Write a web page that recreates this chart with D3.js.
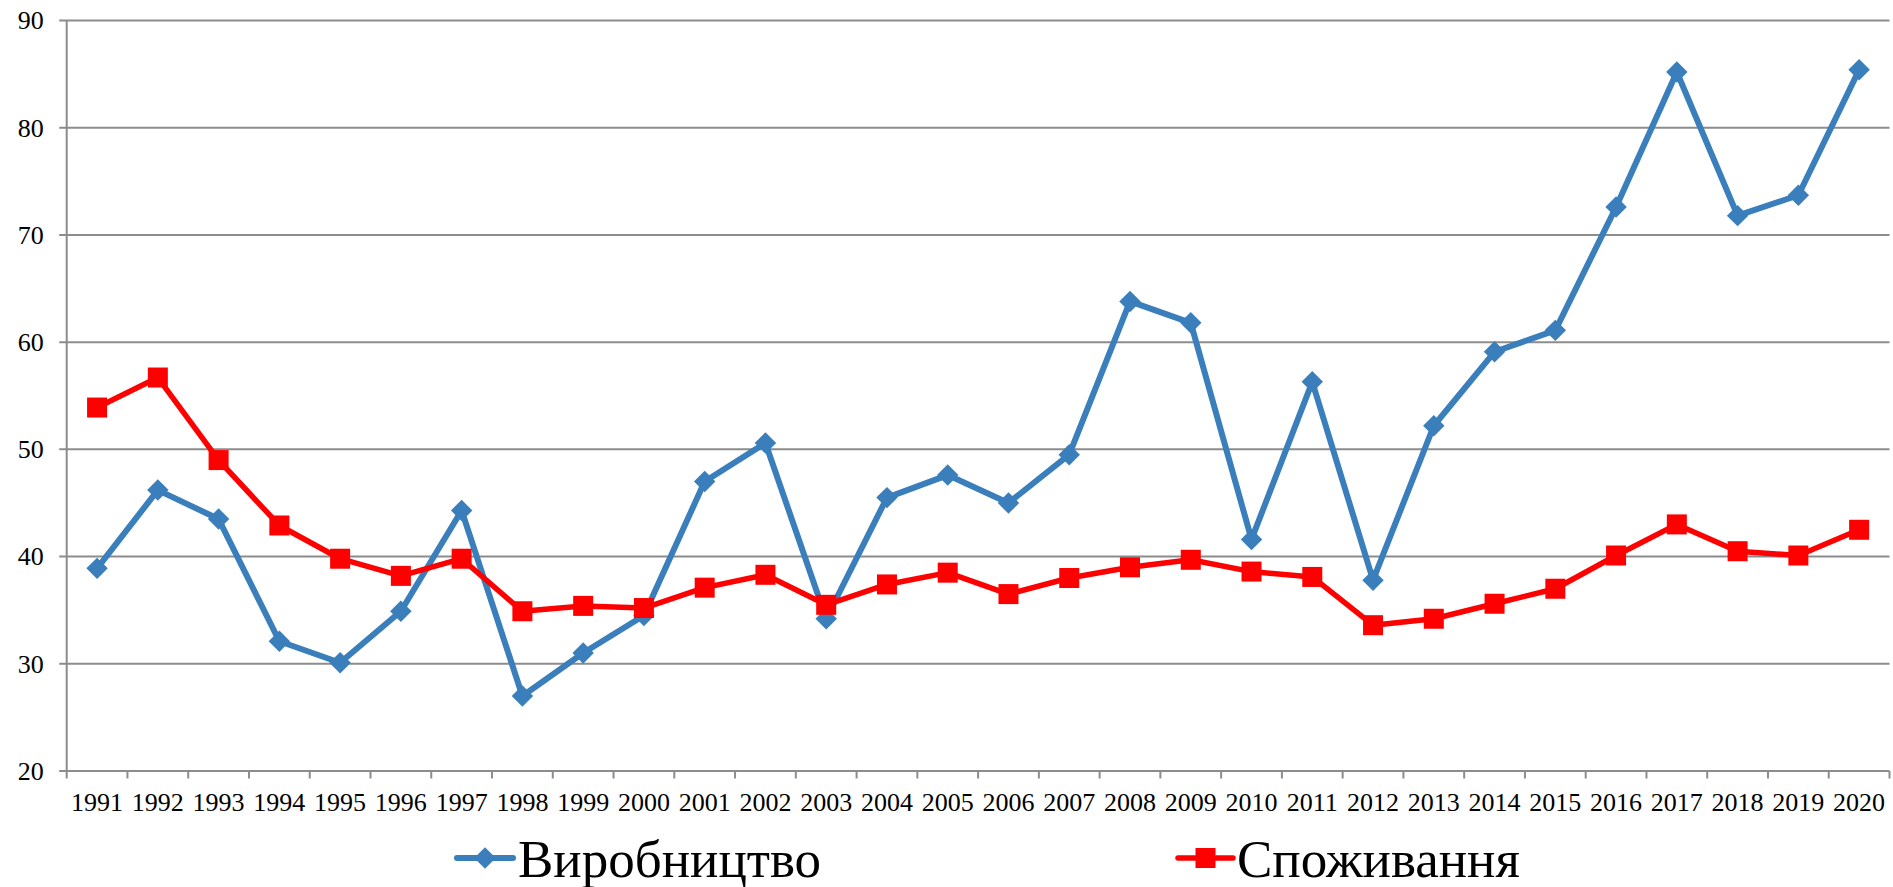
<!DOCTYPE html>
<html>
<head>
<meta charset="utf-8">
<script src="https://cdn.jsdelivr.net/npm/d3@7"></script>
<style>
  body { margin: 0; background: #fff; }
  text { font-family: "Liberation Serif", "Times New Roman", serif; fill: #000; }
</style>
</head>
<body>
<div id="chart"></div>
<script>
var years = ["1991","1992","1993","1994","1995","1996","1997","1998","1999","2000",
             "2001","2002","2003","2004","2005","2006","2007","2008","2009","2010",
             "2011","2012","2013","2014","2015","2016","2017","2018","2019","2020"];

var production = [38.9, 46.2, 43.5, 32.1, 30.1, 34.9, 44.3, 27.0, 31.0, 34.5,
                  47.0, 50.6, 34.2, 45.5, 47.6, 45.0, 49.5, 63.8, 61.8, 41.6,
                  56.3, 37.8, 52.2, 59.1, 61.1, 72.6, 85.2, 71.8, 73.7, 85.4];

var consumption = [53.9, 56.7, 49.0, 42.9, 39.8, 38.2, 39.8, 34.9, 35.4, 35.2,
                   37.1, 38.3, 35.5, 37.4, 38.5, 36.5, 38.0, 39.0, 39.7, 38.6,
                   38.1, 33.6, 34.2, 35.6, 37.0, 40.1, 43.0, 40.5, 40.1, 42.5];

var yTicks = [20, 30, 40, 50, 60, 70, 80, 90];
var seriesNames = ["Виробництво", "Споживання"];

var viewboxwidth = 1893;
var viewboxheight = 887;
var margin = {top: 20.5, bottom: 116, left: 66.7, right: 3.5};
var width = viewboxwidth - margin.left - margin.right;
var height = viewboxheight - margin.top - margin.bottom;

var blue = "#3a7fbb";
var red = "#ff0000";
var grid = "#8c8c8c";

var svg = d3.select("#chart")
    .append("svg")
    .attr("width", viewboxwidth)
    .attr("height", viewboxheight)
    .append("g")
    .attr("transform", "translate(" + margin.left + "," + margin.top + ")");

var x = d3.scaleBand()
    .domain(years)
    .range([0, width]);

var y = d3.scaleLinear()
    .domain([20, 90])
    .range([height, 0]);

// horizontal gridlines (with the little tick stubs on the left)
svg.append("g")
    .selectAll("line")
    .data(yTicks)
    .enter()
    .append("line")
    .attr("x1", -7.5)
    .attr("x2", width)
    .attr("y1", function(d){ return y(d); })
    .attr("y2", function(d){ return y(d); })
    .style("stroke", grid)
    .style("stroke-width", 2);

// y axis line
svg.append("line")
    .attr("x1", 0).attr("x2", 0)
    .attr("y1", 0).attr("y2", height)
    .style("stroke", grid)
    .style("stroke-width", 2);

// y labels
svg.append("g")
    .selectAll("text")
    .data(yTicks)
    .enter()
    .append("text")
    .attr("x", -23)
    .attr("y", function(d){ return y(d); })
    .attr("dy", "0.34em")
    .style("text-anchor", "end")
    .style("font-size", "26px")
    .text(function(d){ return d; });

// x tick marks at band edges
var edges = years.map(function(d){ return x(d); }).concat([width]);
svg.append("g")
    .selectAll("line")
    .data(edges)
    .enter()
    .append("line")
    .attr("x1", function(d){ return d; })
    .attr("x2", function(d){ return d; })
    .attr("y1", height)
    .attr("y2", height + 7.5)
    .style("stroke", grid)
    .style("stroke-width", 2);

// x labels
svg.append("g")
    .selectAll("text")
    .data(years)
    .enter()
    .append("text")
    .attr("x", function(d){ return x(d) + x.bandwidth()/2; })
    .attr("y", height + 40)
    .style("text-anchor", "middle")
    .style("font-size", "26px")
    .text(function(d){ return d; });

var line = d3.line()
    .x(function(d, i){ return x(years[i]) + x.bandwidth()/2; })
    .y(function(d){ return y(d); });

// Виробництво
svg.append("path")
    .datum(production)
    .attr("d", line)
    .style("fill", "none")
    .style("stroke", blue)
    .style("stroke-width", 6)
    .style("stroke-linejoin", "round");

var diamond = d3.symbol().type(d3.symbolSquare).size(230);

svg.append("g")
    .selectAll("path")
    .data(production)
    .enter()
    .append("path")
    .attr("d", diamond)
    .attr("transform", function(d, i){
        return "translate(" + (x(years[i]) + x.bandwidth()/2) + "," + y(d) + ") rotate(45)";
    })
    .style("fill", blue);

// Споживання
svg.append("path")
    .datum(consumption)
    .attr("d", line)
    .style("fill", "none")
    .style("stroke", red)
    .style("stroke-width", 5.5)
    .style("stroke-linejoin", "round");

svg.append("g")
    .selectAll("rect")
    .data(consumption)
    .enter()
    .append("rect")
    .attr("x", function(d, i){ return x(years[i]) + x.bandwidth()/2 - 10; })
    .attr("y", function(d){ return y(d) - 10; })
    .attr("width", 20)
    .attr("height", 20)
    .style("fill", red);

// Legend
var legend = d3.select("svg").append("g");

var leg1 = legend.append("g").attr("transform", "translate(457,858)");
leg1.append("line")
    .attr("x1", 0).attr("x2", 56)
    .style("stroke", blue).style("stroke-width", 6).style("stroke-linecap", "round");
leg1.append("path")
    .attr("d", diamond)
    .attr("transform", "translate(28,0) rotate(45)")
    .style("fill", blue);
leg1.append("text")
    .attr("x", 61)
    .attr("y", 19)
    .style("font-size", "53px")
    .text(seriesNames[0]);

var leg2 = legend.append("g").attr("transform", "translate(1178,858)");
leg2.append("line")
    .attr("x1", 0).attr("x2", 55)
    .style("stroke", red).style("stroke-width", 5.5).style("stroke-linecap", "round");
leg2.append("rect")
    .attr("x", 17.5).attr("y", -10)
    .attr("width", 20).attr("height", 20)
    .style("fill", red);
leg2.append("text")
    .attr("x", 59)
    .attr("y", 19)
    .style("font-size", "53px")
    .text(seriesNames[1]);
</script>
</body>
</html>
